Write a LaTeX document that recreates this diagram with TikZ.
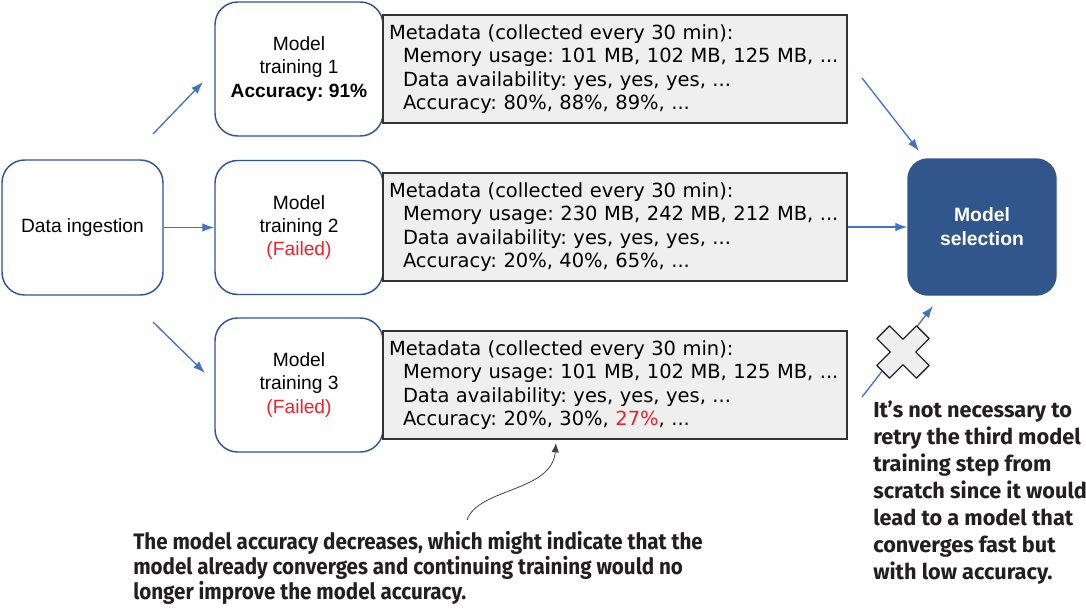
\documentclass[tikz,border=0pt]{standalone}
\usepackage{fontspec}
\setmainfont{Liberation Sans}
\newfontfamily\metafont{DejaVu Sans}
\newfontfamily\sidefont{Fira Sans}
\newfontfamily\leftfont[FakeStretch=0.92]{Fira Sans}
\usetikzlibrary{arrows.meta}
\definecolor{boxblue}{HTML}{2F5597}
\definecolor{flowblue}{HTML}{4472C4}
\definecolor{selblue}{HTML}{31568C}
\definecolor{metagray}{HTML}{EEEFEE}
\definecolor{failred}{HTML}{E8242B}
\definecolor{notegray}{HTML}{231F20}
\frenchspacing
\begin{document}
\begin{tikzpicture}[x=0.75pt,y=-0.75pt,>={Latex[length=9pt,width=6.5pt]},
  stage/.style={draw=boxblue,line width=1.1pt,fill=white,rounded corners=17pt,
    minimum width=126pt,minimum height=100.5pt,inner sep=0pt,align=center,
    font=\fontsize{14.4}{17.6}\selectfont},
  meta/.style={draw=black!80,line width=1pt,fill=metagray,text width=339pt,
    inner xsep=4.5pt,minimum height=81pt,align=left,
    font=\metafont\fontsize{14.6}{17.5}\selectfont},
  flow/.style={->,draw=flowblue,line width=1pt},
  xmark/.style={draw=black!85,fill=metagray,line width=1pt,line join=round},
  note/.style={inner sep=0pt,align=left,text=notegray}]
\useasboundingbox (0,0) rectangle (1086,611);

% stages
\node[stage,minimum width=120.75pt,minimum height=101.25pt] (ingest) at (82.5,227.5) {Data ingestion};
\node[stage] (train1) at (299,69) {Model\\training 1\\\textbf{Accuracy: 91\%}};
\node[stage] (train2) at (299,227.5) {Model\\training 2\\\textcolor{failred}{(Failed)}};
\node[stage] (train3) at (299,385) {Model\\training 3\\\textcolor{failred}{(Failed)}};
\node[stage,fill=selblue,draw=selblue,text=white,rounded corners=15pt,
  minimum width=111pt,minimum height=102pt,
  font=\bfseries\fontsize{14.5}{18}\selectfont] (select) at (982,227) {Model\\selection};

% metadata
\node[meta] (meta1) at (615,69) {Metadata (collected every 30 min):\\
  \hspace*{10.5pt}\mbox{Memory usage: 101 MB, 102 MB, 125 MB, ...}\\
  \hspace*{10.5pt}Data availability: yes, yes, yes, ...\\
  \hspace*{10.5pt}Accuracy: 80\%, 88\%, 89\%, ...};
\node[meta] (meta2) at (615,227) {Metadata (collected every 30 min):\\
  \hspace*{10.5pt}\mbox{Memory usage: 230 MB, 242 MB, 212 MB, ...}\\
  \hspace*{10.5pt}Data availability: yes, yes, yes, ...\\
  \hspace*{10.5pt}Accuracy: 20\%, 40\%, 65\%, ...};
\node[meta] (meta3) at (615,385) {Metadata (collected every 30 min):\\
  \hspace*{10.5pt}\mbox{Memory usage: 101 MB, 102 MB, 125 MB, ...}\\
  \hspace*{10.5pt}Data availability: yes, yes, yes, ...\\
  \hspace*{10.5pt}Accuracy: 20\%, 30\%, \textcolor{failred}{27\%}, ...};

% connectors
\coordinate (up1) at (153,134);
\coordinate (up2) at (203,82);
\coordinate (down1) at (153,322);
\coordinate (down2) at (205,373);
\coordinate (pick1) at (862,78);
\coordinate (pick2) at (919,151);
\coordinate (retry1) at (862,397);
\coordinate (retry2) at (933,306);
\draw[flow] (up1) -- (up2);
\draw[flow] (ingest) -- (train2);
\draw[flow] (down1) -- (down2);
\draw[flow] (pick1) -- (pick2);
\draw[flow] (meta2) -- (select);
\draw[flow] (retry1) -- (retry2);

% cross over the retry arrow
\draw[xmark,shift={(903,352)},rotate=45]
  (28,-9) -- (28,9) -- (9,9) -- (9,28) -- (-9,28) -- (-9,9) -- (-28,9)
  -- (-28,-9) -- (-9,-9) -- (-9,-28) -- (9,-28) -- (9,-9) -- cycle;

% notes
\coordinate (foot) at (467,520);
\coordinate (tip) at (556,443);
\draw[-{Latex[length=7pt,width=5.5pt]},line width=0.6pt,draw=black!75]
  (foot) .. controls (478,488) and (552,492) .. (tip);
\node[note,anchor=north west,font=\leftfont\bfseries\fontsize{16.8}{18.75}\selectfont]
  (decrease) at (133,531) {The model accuracy decreases, which might indicate that the\\
  model already converges and continuing training would no\\
  longer improve the model accuracy.};
\node[note,anchor=north west,font=\sidefont\bfseries\fontsize{16.3}{20.25}\selectfont]
  (whynot) at (873,401) {It’s not necessary to\\retry the third model\\training step from\\
  scratch since it would\\lead to a model that\\converges fast but\\with low accuracy.};
\end{tikzpicture}
\end{document}
